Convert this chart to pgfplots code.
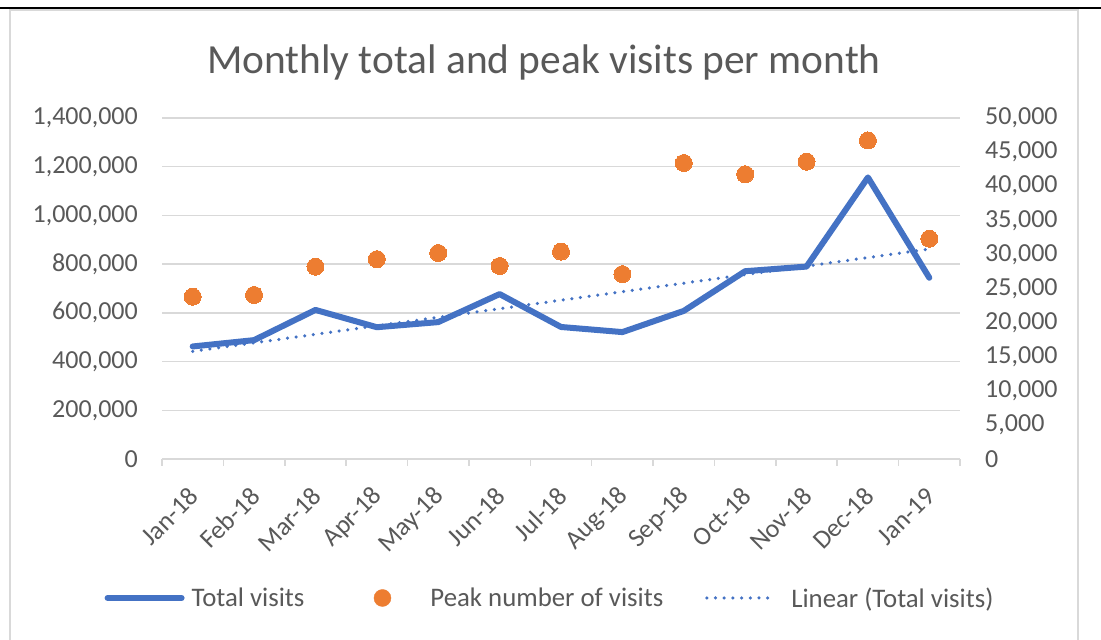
\documentclass[border=0pt]{standalone}
\usepackage{pgfplots}
\usepackage{pgfplotstable}
\pgfplotsset{compat=1.18}
\usepackage{fontspec}
\setmainfont{Carlito}
\definecolor{txt}{HTML}{595959}
\definecolor{gridc}{HTML}{D9D9D9}
\definecolor{blueline}{HTML}{4472C4}
\definecolor{orangedot}{HTML}{ED7D31}
\definecolor{borderc}{HTML}{D9D9D9}
\newcommand{\tickfont}{\fontsize{26bp}{30bp}\selectfont}
\newcommand{\legfont}{\fontsize{26.8bp}{31bp}\selectfont}

\pgfplotstableread{
x total peak
0 462000 23800
1 488000 24050
2 612000 28200
3 541000 29300
4 562000 30200
5 677000 28300
6 542000 30400
7 521000 27100
8 608000 43400
9 771000 41750
10 790000 43600
11 1156000 46700
12 744000 32300
}\datatable

\begin{document}
\begin{tikzpicture}[x=1bp,y=1bp]
\useasboundingbox (0,0) rectangle (1101,640);
\fill[white] (0,0) rectangle (1101,640);
\draw[borderc, line width=2bp] (10,-2) -- (10,630) -- (1078,630) -- (1078,-2);
\draw[black, line width=2.5bp] (0,632) -- (1101,632);

\begin{axis}[
  at={(162bp,181bp)}, anchor=south west,
  scale only axis, width=798bp, height=341bp,
  xmin=-0.5, xmax=12.5, ymin=0, ymax=1400000,
  axis x line*=bottom, axis y line*=left,
  x axis line style={draw=gridc, line width=1.5bp},
  y axis line style={draw=none},
  xtick={0,...,12},
  xticklabels={Jan-18,Feb-18,Mar-18,Apr-18,May-18,Jun-18,Jul-18,Aug-18,Sep-18,Oct-18,Nov-18,Dec-18,Jan-19},
  minor xtick={-0.5,0.5,...,12.5},
  ytick={0,200000,400000,600000,800000,1000000,1200000,1400000},
  major tick length=0pt, minor tick length=7bp, tick align=outside,
  minor tick style={draw=gridc, line width=1.5bp},
  ymajorgrids, major grid style={draw=gridc, line width=1.5bp},
  scaled y ticks=false,
  /pgf/number format/fixed,
  /pgf/number format/precision=0,
  /pgf/number format/1000 sep={,},
  /pgf/number format/assume math mode=true,
  ticklabel style={font=\tickfont, text=txt},
  yticklabel style={anchor=east, inner sep=0pt, xshift=-24bp},
  xticklabel style={xshift=1.5bp, yshift=-33bp, rotate=45, anchor=east, inner sep=0pt},
  title={Monthly total and peak visits per month},
  title style={at={(0.4787,1.112)}, anchor=base, yshift=0pt, font=\fontsize{41.4bp}{48bp}\selectfont, text=txt, inner sep=0pt},
]
\addplot[blueline, line width=6bp, line cap=round, line join=round] table[x=x,y=total]{\datatable};
\addplot[blueline, line width=3.5bp, line cap=round, dash pattern=on 0pt off 8.7bp] table[x=x, y={create col/linear regression={y=total}}]{\datatable};
\end{axis}

\begin{axis}[
  at={(162bp,181bp)}, anchor=south west,
  scale only axis, width=798bp, height=341bp,
  xmin=-0.5, xmax=12.5, ymin=0, ymax=50000,
  axis x line=none, axis y line*=right,
  y axis line style={draw=none},
  ytick={0,5000,10000,15000,20000,25000,30000,35000,40000,45000,50000}, major tick length=0pt,
  scaled y ticks=false,
  /pgf/number format/fixed,
  /pgf/number format/precision=0,
  /pgf/number format/1000 sep={,},
  /pgf/number format/assume math mode=true,
  yticklabel style={anchor=west, inner sep=0pt, xshift=25bp, font=\tickfont, text=txt},
  legend columns=3,
  legend cell align=left,
  legend style={at={(0.485,-0.4076)}, anchor=center, draw=none, fill=none,
    font=\legfont, text=txt, nodes={inner sep=0pt},
    /tikz/every even column/.style={column sep=0pt}},
]
\addlegendimage{legend image code/.code={\path[draw=none,fill=none] (0bp,0bp) -- (87bp,0bp); \draw[blueline, line width=6bp, line cap=round] (3bp,0bp) -- (77bp,0bp);}}
\addlegendentry{Total visits}
\addplot[color=orangedot, only marks, mark=*, mark size=8.5bp, mark options={draw=orangedot, fill=orangedot, line width=0pt},
  legend image code/.code={\path[draw=none,fill=none] (0bp,0bp) -- (126bp,0bp); \fill[orangedot] (78bp,0bp) circle (8.5bp);}]
  table[x=x,y=peak]{\datatable};
\addlegendentry{Peak number of visits}
\addlegendimage{legend image code/.code={\path[draw=none,fill=none] (0bp,0bp) -- (128bp,0bp); \draw[blueline, line width=3.5bp, line cap=round, dash pattern=on 0pt off 8.7bp] (43.5bp,0bp) -- (112.5bp,0bp);}}
\addlegendentry{Linear (Total visits)}
\end{axis}
\end{tikzpicture}
\end{document}
